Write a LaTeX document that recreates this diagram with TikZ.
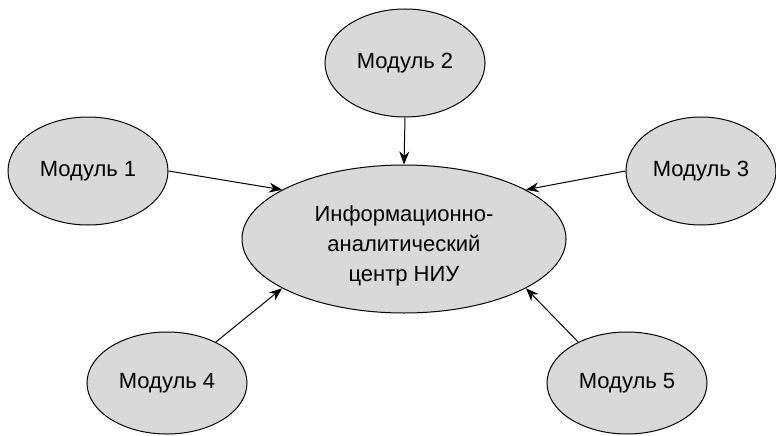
\documentclass[tikz,border=0pt]{standalone}
\usepackage{fontspec}
\setmainfont{Liberation Sans}
\usetikzlibrary{shapes.geometric, arrows.meta}
\begin{document}
\begin{tikzpicture}
    [module/.style={ellipse, draw, fill=gray!30, line width=1pt, minimum width=160pt,
      minimum height=108pt, inner sep=0pt, font=\fontsize{22}{30}\selectfont},
    x=1pt, y=-1pt, >={Stealth[length=13pt, width=10pt]}]
    \useasboundingbox (0,0) rectangle (776,436);
    \node[module] (m1) at (88, 171)  {Модуль 1};
    \node[module] (m2) at (405, 63)  {Модуль 2};
    \node[module, minimum width=150pt] (m3) at (701, 171)  {Модуль 3};
    \node[module, minimum height=102pt] (m4) at (167, 383)  {Модуль 4};
    \node[module, minimum height=102pt] (m5) at (627, 383)  {Модуль 5};
    %
    \node[module, minimum width=324pt, minimum height=148pt] (c) at (404, 239)
      {\raisebox{-12pt}[0pt][0pt]{\begin{tabular}{@{}c@{}}Информационно-\\аналитический\\центр НИУ\end{tabular}}};
    %
    \draw[line width=1pt, ->] (m1.east) -- (c.158);
    \draw[line width=1pt, ->] (m2.south) -- (c.north);
    \draw[line width=1pt, ->] (m3.west) -- (c.22);
    \draw[line width=1pt, ->] (m4.40) -- (c.202);
    \draw[line width=1pt, ->] (m5.140) -- (c.338);
\end{tikzpicture}
\end{document}
